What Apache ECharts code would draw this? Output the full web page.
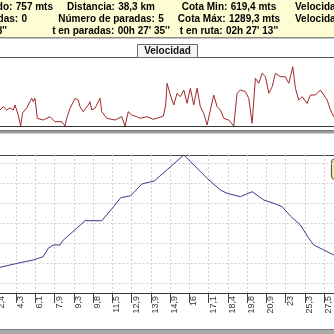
<!DOCTYPE html>
<html>
<head>
<meta charset="utf-8">
<script src="https://cdn.jsdelivr.net/npm/echarts@6/dist/echarts.min.js"></script>
<style>
  html, body { margin: 0; padding: 0; background: #ffffff; }
  #chart { width: 334px; height: 334px; }
</style>
</head>
<body>
<div id="chart"></div>
<script>
// Distance labels shown under the profile, one per tick (tick n sits at track position n*20)
const distanceLabels = ['2,4', '4,3', '6,1', '7,9', '9,3', '9,8', '11,5', '12,9', '13,9',
  '14,9', '16', '17,1', '18,4', '19,8', '20,9', '23', '25,3', '27,5'];

// Speed along the track: [track position, km/h]
const speedTrack = [
  [0, 18], [3.1, 16], [6.5, 19.3], [10.1, 16], [13.5, 18], [16.9, 16], [18.7, 21], [22.1, 11],
  [24.6, 0], [26.7, 13.3], [30.9, 18], [34.3, 24.3], [36.1, 27.7], [37.7, 24.3], [39.5, 27.7],
  [41.9, 7.7], [48.1, 6], [55.1, 9.3], [60.3, 4.3], [67.3, 4.3], [70.7, 0], [72.5, 7.7],
  [75.9, 17.7], [81.1, 27.7], [84.5, 26], [86.3, 19.3], [89.7, 14.3], [94.9, 21], [96.7, 24.3],
  [98.5, 16], [101.9, 17.7], [107.1, 27.7], [108.9, 14.3], [114.1, 7.7], [122.7, 6], [129.7, 9.3],
  [133.1, 0], [136.5, 14.3], [140.1, 11], [145.3, 9.3], [148.7, 7.7], [155.7, 9.3], [162.5, 6.7],
  [169.5, 8.7], [172.9, 10], [175.4, 21], [176.8, 42.7], [180.2, 31], [183.8, 21], [187.2, 32.7],
  [190.6, 29.3], [194.2, 36], [197.6, 22.7], [201.0, 37.7], [204.5, 21], [208.0, 37.7],
  [211.4, 19.3], [214.9, 12.7], [218.4, 1], [221.8, 16], [225.3, 31], [228.8, 19.3], [232.2, 16],
  [235.7, 7.7], [240.9, 6], [246.1, 0], [249.6, 32.7], [253.0, 36], [258.2, 34.3], [261.7, 27.7],
  [265.2, 2.7], [268.6, 47.7], [272.1, 42.7], [275.6, 52.7], [279.0, 49.3], [282.6, 32.7],
  [286.0, 39.3], [289.4, 52.7], [294.6, 49.3], [299.8, 49.3], [303.3, 42.7], [307.5, 59.3],
  [310.2, 37.7], [313.7, 26], [317.2, 29.3], [322.4, 22.7], [325.8, 31], [331.0, 31], [336.2, 36],
  [339.7, 31], [343.2, 26], [346.6, 16], [350.2, 9.3], [353.6, 14]
];

// Elevation profile: [track position, metres]
const elevationTrack = [
  [-2.1, 724.3], [3.1, 727.8], [13.5, 739.3], [23.9, 750.8], [37.7, 764.3], [48.1, 780.8],
  [53.3, 822.8], [58.5, 839.3], [65.5, 839.3], [68.9, 864.3], [82.9, 922.8], [91.5, 960.8],
  [108.9, 960.8], [119.3, 1019.3], [128.6, 1075.8], [139.0, 1085.8], [150.5, 1144.3],
  [163.3, 1159.3], [176.5, 1214.3], [194.2, 1289.3], [218.4, 1172.8], [232.2, 1114.3],
  [239.2, 1097.8], [253.0, 1080.8], [265.2, 1105.8], [277.3, 1064.3], [287.7, 1047.8],
  [296.4, 1030.8], [305.0, 984.3], [315.4, 939.3], [324.1, 872.8], [329.3, 839.3],
  [339.7, 814.3], [350.2, 789.3], [356.7, 774.3]
];

// Summary panel rows
const summaryRows = [
  { right: 53, label: 'lado:', value: '757 mts', tone: 'red' },
  { right: 27, label: 'adas:', value: '0', tone: 'red' },
  { right: 7, label: '', value: "8''", tone: 'orange' }
];
const summaryMiddle = [
  { label: 'Distancia:', value: '38,3 km', tone: 'red' },
  { label: 'Número de paradas:', value: '5', tone: 'red' },
  { label: 't en paradas:', value: "00h 27' 35''", tone: 'orange' }
];
const summaryHeights = [
  { label: 'Cota Min:', value: '619,4 mts', tone: 'red' },
  { label: 'Cota Máx:', value: '1289,3 mts', tone: 'red' },
  { label: 't en ruta:', value: "02h 27' 13''", tone: 'orange' }
];
const summarySpeed = ['Velocidad', 'Velocidad'];

const FONT = '"Liberation Sans", Arial, sans-serif';
const rowY = [7, 19, 31];
const rich = {
  l: { fontFamily: FONT, fontSize: 10, fontWeight: 'bold', color: '#2a2a2a' },
  red: { fontFamily: FONT, fontSize: 10, fontWeight: 'bold', color: '#d0381c' },
  orange: { fontFamily: FONT, fontSize: 10, fontWeight: 'bold', color: '#e3a533' }
};
function richText(item) {
  return (item.label ? '{l|' + item.label + '} ' : '') + '{' + item.tone + '|' + item.value + '}';
}
function textEl(x, y, text, align) {
  return {
    type: 'text', x: x, y: y, silent: true,
    style: { text: text, rich: rich, align: align, verticalAlign: 'middle' }
  };
}

const graphics = [
  // summary panel background and its lower border
  { type: 'rect', shape: { x: 0, y: 0, width: 334, height: 37 }, style: { fill: '#fdfcd2' } },
  { type: 'line', shape: { x1: 0, y1: 37.5, x2: 334, y2: 37.5 }, style: { stroke: '#8a8a8a', lineWidth: 1 } },
  { type: 'line', shape: { x1: 0, y1: 38.5, x2: 334, y2: 38.5 }, style: { stroke: '#c4c4c4', lineWidth: 1 } },
  // speed panel tab
  { type: 'line', shape: { x1: 0, y1: 57.5, x2: 137.5, y2: 57.5 }, style: { stroke: '#555555', lineWidth: 1 } },
  { type: 'line', shape: { x1: 197.5, y1: 57.5, x2: 334, y2: 57.5 }, style: { stroke: '#555555', lineWidth: 1 } },
  { type: 'rect', shape: { x: 137.5, y: 44.5, width: 60, height: 13 }, style: { fill: '#f6f6f6', stroke: '#6a6a6a', lineWidth: 1 } },
  { type: 'text', x: 167.5, y: 51.5, silent: true,
    style: { text: 'Velocidad', font: 'bold 10px ' + FONT, fill: '#111111', align: 'center', verticalAlign: 'middle' } },
  // separator between panels
  { type: 'rect', shape: { x: 0, y: 130.5, width: 334, height: 3 }, style: { fill: '#9a9a9a' } },
  { type: 'line', shape: { x1: 0, y1: 130.5, x2: 334, y2: 130.5 }, style: { stroke: '#7a7a7a', lineWidth: 1 } },
  // elevation panel top border
  { type: 'line', shape: { x1: 0, y1: 155.5, x2: 334, y2: 155.5 }, style: { stroke: '#444444', lineWidth: 1 } },
  // legend button at right edge
  { type: 'rect', shape: { x: 331.5, y: 158.5, width: 20, height: 21, r: 4 }, style: { fill: '#eaf3a8', stroke: '#5c5c3c', lineWidth: 1.2 } },
  // bottom frame
  { type: 'rect', shape: { x: 0, y: 329, width: 334, height: 5 }, style: { fill: '#a9a9a9' } },
  { type: 'line', shape: { x1: 0, y1: 329.5, x2: 334, y2: 329.5 }, style: { stroke: '#7e7e7e', lineWidth: 1 } }
];
summaryRows.forEach(function (r, i) { graphics.push(textEl(r.right, rowY[i], richText(r), 'right')); });
summaryMiddle.forEach(function (r, i) { graphics.push(textEl(111, rowY[i], richText(r), 'center')); });
summaryHeights.forEach(function (r, i) { graphics.push(textEl(229, rowY[i], richText(r), 'center')); });
summarySpeed.forEach(function (t, i) { graphics.push(textEl(295, rowY[i], '{l|' + t + '}', 'left')); });

const chart = echarts.init(document.getElementById('chart'), null, { renderer: 'canvas' });
const gridLeft = -41.5, gridRight = -47.8;
chart.setOption({
  animation: false,
  backgroundColor: '#ffffff',
  grid: [
    { left: gridLeft, right: gridRight, top: 57, height: 69, containLabel: false, outerBoundsMode: 'none' },
    { left: gridLeft, right: gridRight, top: 155, height: 138, containLabel: false, outerBoundsMode: 'none' }
  ],
  xAxis: [
    {
      gridIndex: 0, type: 'value', min: -40, max: 400, interval: 20,
      axisLine: { show: true, lineStyle: { color: '#333333', width: 1 } },
      axisTick: { show: false }, axisLabel: { show: false }, splitLine: { show: false }
    },
    {
      gridIndex: 1, type: 'value', min: -40, max: 400, interval: 20,
      axisLine: { show: true, lineStyle: { color: '#333333', width: 1 } },
      axisTick: { show: true, length: 10, lineStyle: { color: '#444444' } },
      axisLabel: {
        show: true, rotate: 90, align: 'right', verticalAlign: 'top', margin: 3,
        fontFamily: FONT, fontSize: 9, color: '#333333',
        formatter: function (v) {
          const i = Math.round(v / 20);
          return i >= 0 && i < distanceLabels.length ? distanceLabels[i] : '';
        }
      },
      splitLine: { show: true, lineStyle: { color: '#cfcfcf', type: [2, 2], width: 1 } }
    }
  ],
  yAxis: [
    { gridIndex: 0, type: 'value', min: 0, max: 69, show: false },
    { gridIndex: 1, type: 'value', min: 599.3, max: 1289.3, show: false },
    {
      // horizontal guide lines of the profile panel
      gridIndex: 1, type: 'value', min: 0, max: 69, interval: 5,
      axisLine: { show: false }, axisTick: { show: false }, axisLabel: { show: false },
      splitLine: { show: true, lineStyle: { color: ['rgba(0,0,0,0)', '#cfcfcf'], type: [2, 2], width: 1 } }
    }
  ],
  series: [
    {
      type: 'line', xAxisIndex: 0, yAxisIndex: 0, data: speedTrack,
      showSymbol: false, symbol: 'none', clip: true,
      lineStyle: { color: '#a0282c', width: 1 }
    },
    {
      type: 'line', xAxisIndex: 1, yAxisIndex: 1, data: elevationTrack,
      showSymbol: false, symbol: 'none', clip: true,
      lineStyle: { color: '#3b3b8c', width: 1 }
    }
  ],
  graphic: graphics
});
</script>
</body>
</html>
